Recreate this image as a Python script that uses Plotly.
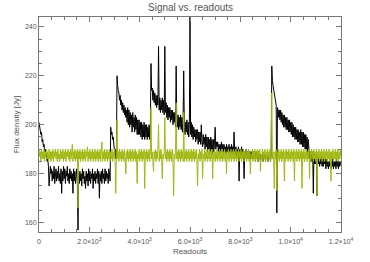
import plotly.graph_objects as go

step = 25
black_vals = [
201,199,198,196,197,193,194,191,192,189,190,187,188,185,186,183,175,181,183,180,
182,177,181,178,183,176,180,182,177,181,178,183,177,180,176,182,172,181,177,183,
178,182,176,181,179,183,177,180,176,182,178,181,177,180,172,182,177,181,176,180,
182,176,157,180,176,181,177,180,175,182,178,181,176,179,174,181,177,180,175,182,
177,181,176,180,178,182,174,180,177,181,176,180,178,182,176,181,170,180,177,181,
176,182,178,180,176,182,177,181,178,180,176,182,179,177,199,196,197,194,195,192,
189,190,186,187,220,216,214,213,210,212,208,210,206,209,205,208,204,207,203,206,
201,207,200,206,199,205,200,204,197,205,199,203,197,204,198,203,196,202,196,202,
196,201,195,201,194,200,195,201,194,200,195,200,194,199,195,200,194,199,225,214,
215,210,214,209,213,208,212,207,212,208,232,206,211,205,210,206,211,205,210,204,
232,205,209,203,208,202,207,203,207,201,206,202,206,200,205,201,205,199,224,200,
199,204,198,203,199,204,198,203,197,202,222,199,196,201,197,202,196,201,195,200,
246,196,201,195,200,194,199,195,198,193,198,194,198,192,197,193,197,192,200,193,
191,196,192,195,190,196,191,195,189,195,190,194,189,195,190,194,188,194,189,193,
199,190,193,191,193,189,192,190,192,189,193,190,192,188,192,189,191,188,192,189,
191,188,192,189,191,188,192,189,191,188,197,189,188,191,187,190,188,191,177,190,
190,187,191,188,190,187,178,189,186,190,187,189,186,190,187,189,186,189,187,189,
186,189,187,188,185,189,186,188,185,189,186,188,185,188,186,188,185,188,186,188,
185,188,186,187,185,188,186,187,185,188,224,218,216,214,212,211,209,208,164,207,
206,203,206,202,206,201,205,200,204,199,204,199,203,198,203,198,202,197,202,197,
201,196,201,195,200,195,199,194,199,194,198,193,198,193,197,192,198,192,197,191,
197,191,196,190,196,190,195,189,194,190,186,189,185,188,185,189,172,188,184,187,
184,187,171,187,184,187,183,186,184,187,183,186,183,186,184,186,182,186,183,185,
182,185,183,186,182,185,183,186,182,185,183,185,182,186,183,185,182,185,183,184,
185,
]
green_vals = [
190,187,189,185,190,186,189,186,190,185,189,187,190,186,189,185,190,186,189,185,
189,186,190,185,189,187,190,186,189,185,190,186,188,185,190,186,189,186,190,185,
189,186,190,185,189,187,190,186,189,185,190,186,189,192,185,189,186,190,185,189,
186,190,166,189,186,190,185,189,186,190,185,189,186,190,185,189,187,191,185,189,
186,190,185,189,186,190,185,189,186,190,185,189,186,190,185,189,186,190,185,189,
193,185,189,186,190,185,189,186,190,185,189,186,190,185,189,186,190,185,189,186,
190,185,172,189,202,186,189,185,190,186,189,185,190,186,189,185,190,186,180,189,
186,190,185,189,186,190,185,189,186,190,185,189,186,190,185,189,176,188,186,190,
185,189,186,190,185,189,186,190,174,189,186,190,185,189,186,190,185,189,207,186,
189,185,181,189,186,190,185,189,186,190,200,185,189,186,190,185,178,188,186,189,
203,186,189,185,190,186,189,185,190,186,189,185,190,186,171,188,186,190,209,186,
189,185,190,186,189,185,190,186,189,185,205,185,189,186,190,185,189,186,190,185,
189,186,190,185,189,186,190,185,189,186,190,185,175,188,186,190,185,189,186,190,
178,188,186,190,185,189,186,190,185,189,186,190,185,189,186,190,178,188,186,190,
185,189,186,190,185,189,186,190,185,189,186,190,185,189,186,190,185,189,180,188,
186,190,185,189,186,190,185,189,186,190,185,189,186,190,185,189,186,190,185,189,
186,190,185,189,186,190,185,189,186,190,185,189,186,190,185,189,180,188,186,190,
185,189,186,190,185,189,186,190,185,189,186,190,181,188,186,190,185,189,186,190,
185,189,186,190,185,189,186,190,185,189,213,186,189,185,174,189,186,190,173,189,
186,190,185,189,186,190,185,189,186,190,177,189,185,190,186,189,185,190,186,189,
185,190,186,189,185,190,177,189,186,190,185,189,186,190,185,189,186,190,174,189,
186,190,185,189,186,190,185,189,186,190,178,189,185,190,186,189,185,190,186,189,
185,190,171,189,186,190,185,189,186,190,185,189,186,190,185,189,186,190,185,189,
186,190,185,189,177,189,186,190,185,189,186,190,185,189,186,190,185,189,186,190,
187,
]
x_black = [i * step for i in range(len(black_vals))]
x_green = [i * step for i in range(len(green_vals))]

x_tickvals = [0, 2000, 4000, 6000, 8000, 10000, 12000]
x_ticktext = ["0", "2.0×10<sup>3</sup>", "4.0×10<sup>3</sup>", "6.0×10<sup>3</sup>",
              "8.0×10<sup>3</sup>", "1.0×10<sup>4</sup>", "1.2×10<sup>4</sup>"]
y_tickvals = [160, 180, 200, 220, 240]

fig = go.Figure()
fig.add_trace(go.Scatter(x=x_black, y=black_vals, mode="lines",
                         line=dict(color="#000000", width=1), showlegend=False))
fig.add_trace(go.Scatter(x=x_green, y=green_vals, mode="lines",
                         line=dict(color="#a0b810", width=1), showlegend=False))

axis_common = dict(showline=True, linecolor="#777777", linewidth=1, mirror="ticks",
                   ticks="inside", ticklen=5, tickcolor="#777777", showgrid=False,
                   zeroline=False, automargin=False,
                   tickfont=dict(family="Liberation Sans", size=7, color="#555555"))

fig.update_xaxes(range=[0, 12000], tickmode="array", tickvals=x_tickvals, ticktext=x_ticktext,
                 ticklabelstandoff=3,
                 minor=dict(tickmode="linear", tick0=0, dtick=500, ticklen=3, ticks="inside",
                            tickcolor="#777777", showgrid=False),
                 title=dict(text="Readouts", font=dict(family="Liberation Sans", size=8, color="#555555"),
                            standoff=3),
                 **axis_common)
fig.update_yaxes(range=[156.2, 244], tickmode="array", tickvals=y_tickvals,
                 minor=dict(tickmode="linear", tick0=0, dtick=5, ticklen=3, ticks="inside",
                            tickcolor="#777777", showgrid=False),
                 title=dict(text="Flux density [Jy]", font=dict(family="Liberation Sans", size=8, color="#555555"),
                            standoff=4),
                 **axis_common)

fig.update_layout(
    width=370, height=262,
    margin=dict(l=39, r=29, t=17, b=30),
    paper_bgcolor="white", plot_bgcolor="white",
    title=dict(text="Signal vs. readouts", x=0.515, xanchor="center", y=0.985, yanchor="top",
               font=dict(family="Liberation Sans", size=10, color="#555555")),
)

fig.write_html("out.html", config={"displayModeBar": False},
               post_script="document.body.style.margin='0';")
